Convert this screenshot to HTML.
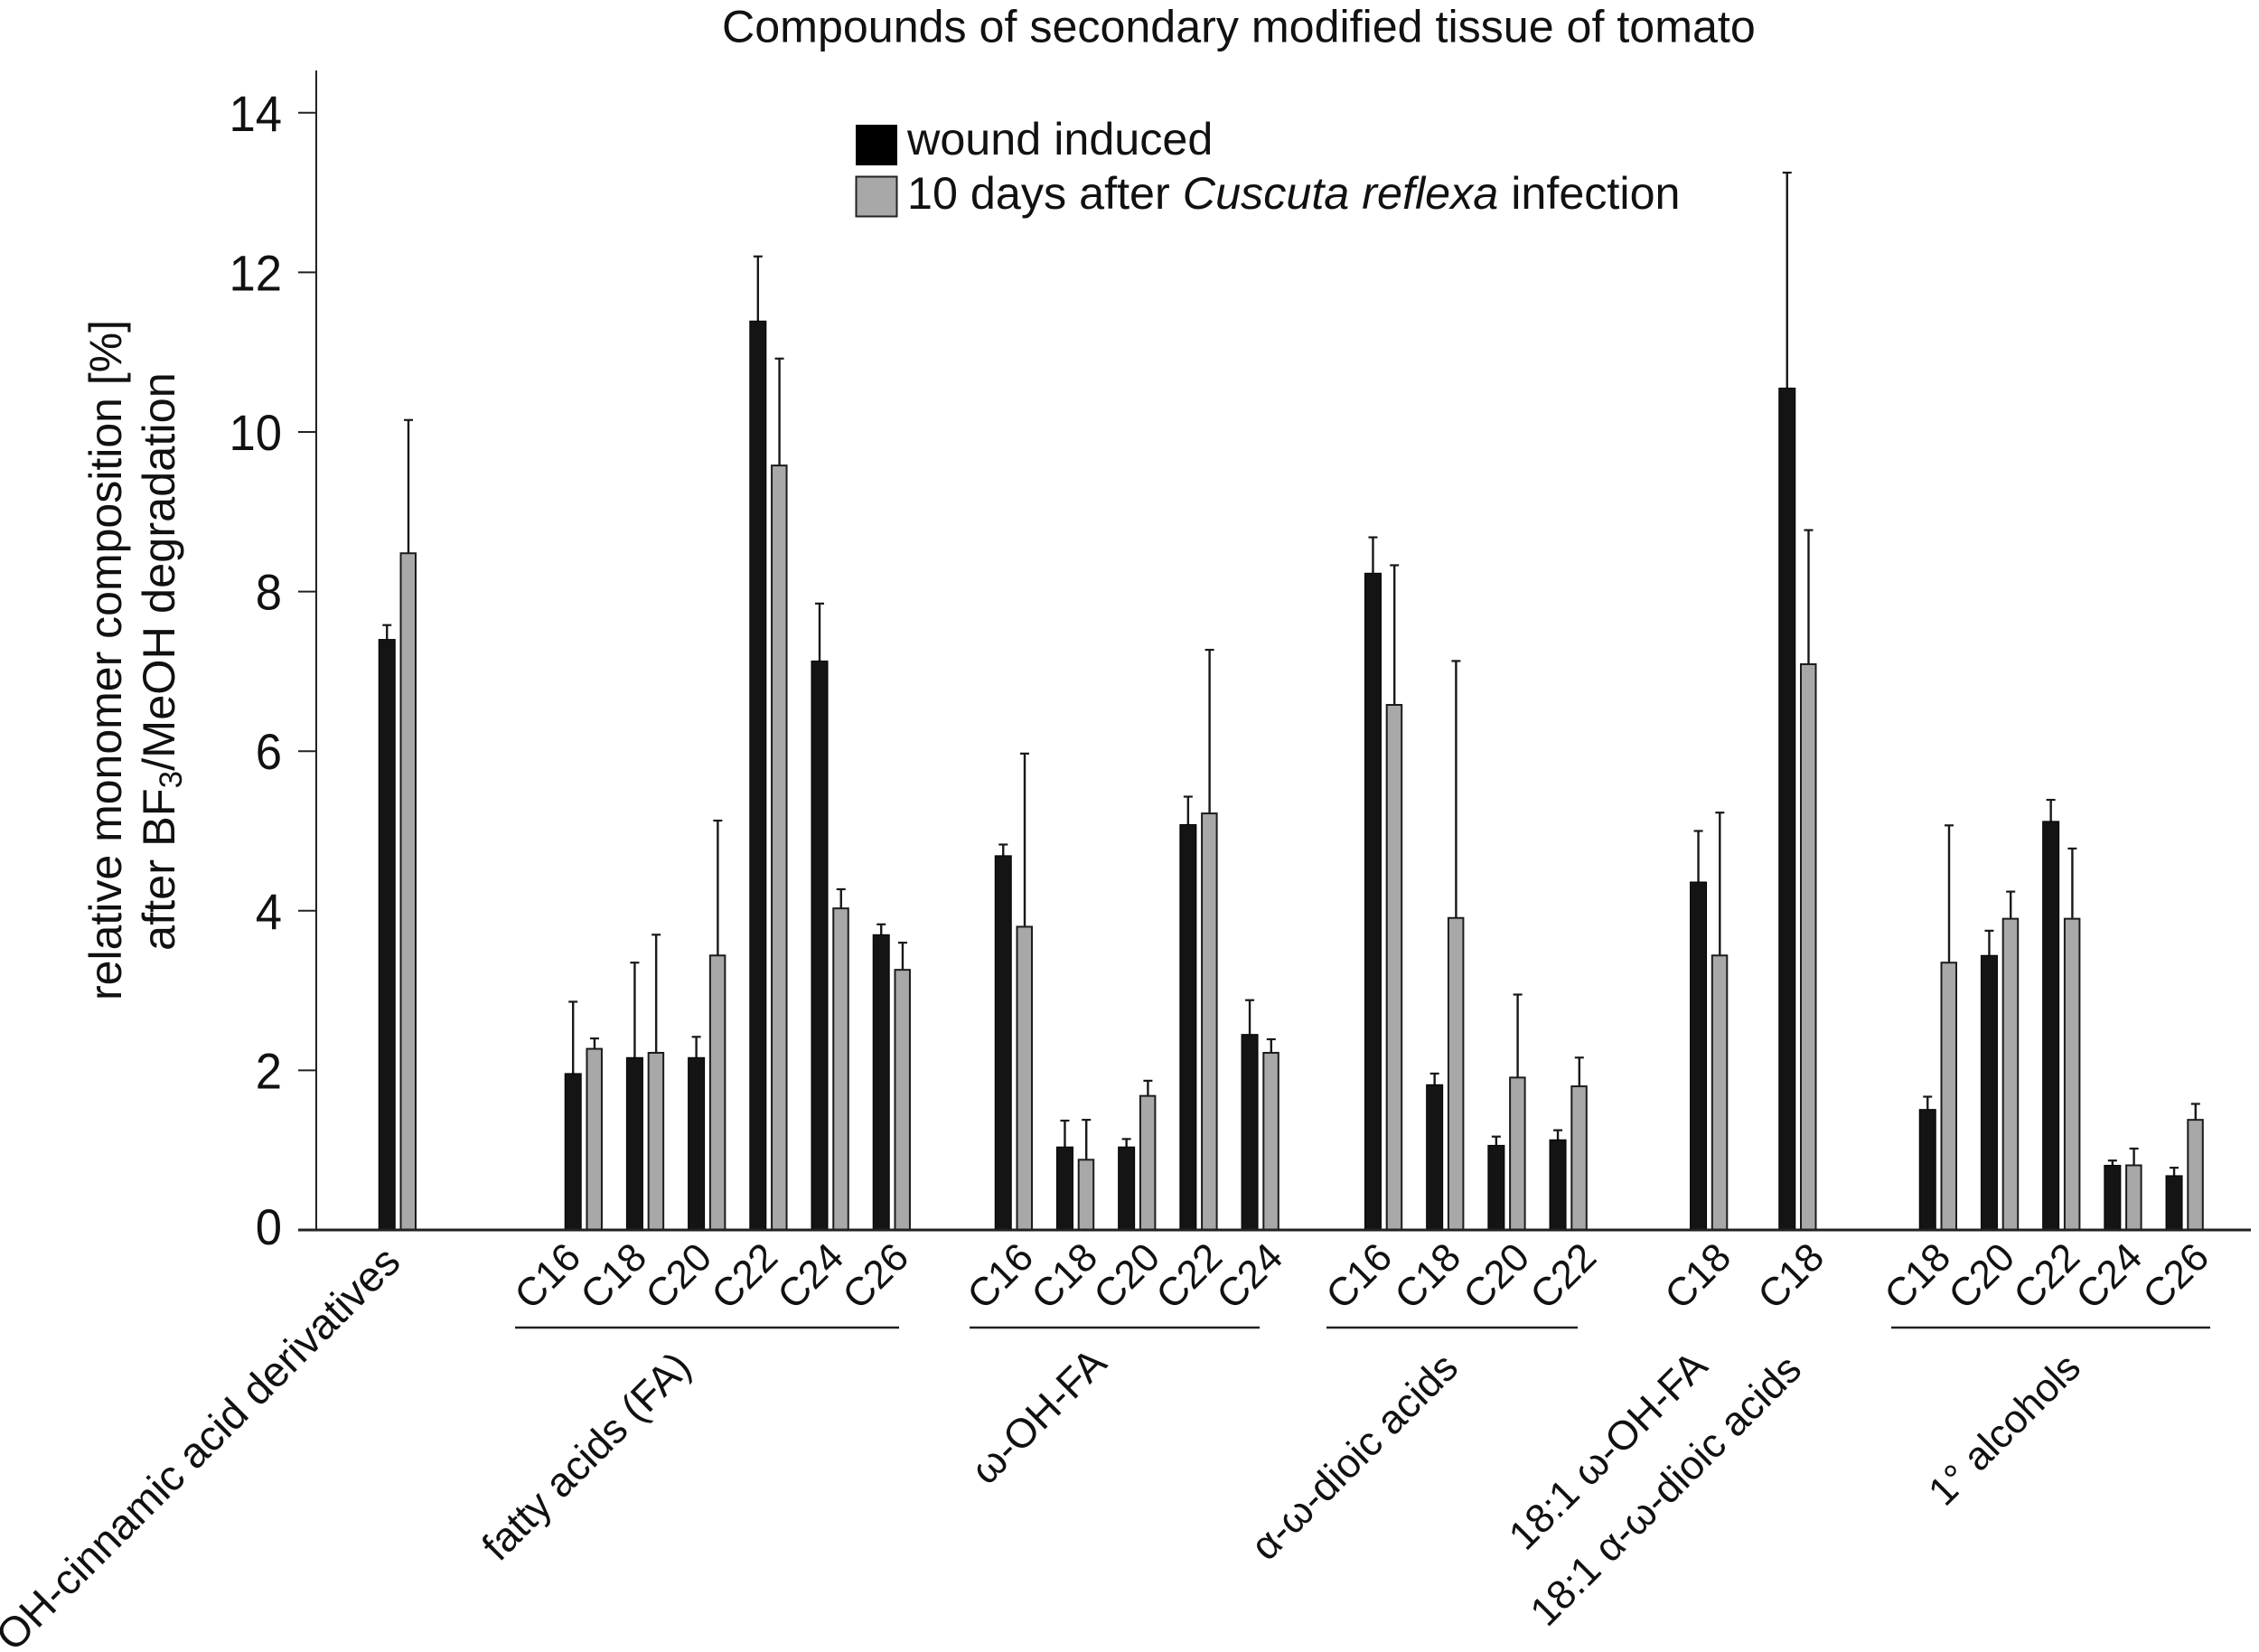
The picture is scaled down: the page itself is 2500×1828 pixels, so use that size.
<!DOCTYPE html>
<html lang="en">
<head>
<meta charset="utf-8">
<title>Compounds of secondary modified tissue of tomato</title>
<style>
html,body{margin:0;padding:0;background:#fff}
svg{display:block}
text{font-family:"Liberation Sans",Arial,sans-serif;fill:#111}
.xl{font-size:44px;text-anchor:end}
.gl{font-size:45px;text-anchor:end}
.yt{font-size:56px;text-anchor:end}
</style>
</head>
<body>
<svg id="chart" xmlns="http://www.w3.org/2000/svg" width="2500" height="1828" viewBox="0 0 2500 1828">
  <rect x="0" y="0" width="2500" height="1828" fill="#fff"/>
  <text x="799" y="46.5" font-size="50.2">Compounds of secondary modified tissue of tomato</text>

  <g>
    <rect x="947" y="138" width="46" height="45" fill="#000"/>
    <text x="1004" y="171" font-size="50.3">wound induced</text>
    <rect x="947.5" y="195.5" width="45" height="44" fill="#a8a8a8" stroke="#222" stroke-width="2"/>
    <text x="1004" y="231" font-size="50.3">10 days after <tspan font-style="italic">Cuscuta reflexa</tspan> infection</text>
  </g>

  <g id="yaxis"></g>

  <g>
    <text transform="translate(134 1107) rotate(-90)" font-size="50">relative monomer composition [%]</text>
    <text transform="translate(193 1052) rotate(-90)" font-size="50.5">after BF<tspan font-size="35" dy="8">3</tspan><tspan dy="-8">/MeOH degradation</tspan></text>
  </g>

  <g id="bars"></g>

  <g>
    <text class="xl" transform="translate(645 1394) rotate(-45)">C16</text>
    <text class="xl" transform="translate(718 1394) rotate(-45)">C18</text>
    <text class="xl" transform="translate(790 1394) rotate(-45)">C20</text>
    <text class="xl" transform="translate(863 1394) rotate(-45)">C22</text>
    <text class="xl" transform="translate(936 1394) rotate(-45)">C24</text>
    <text class="xl" transform="translate(1008 1394) rotate(-45)">C26</text>
    <text class="xl" transform="translate(1146 1394) rotate(-45)">C16</text>
    <text class="xl" transform="translate(1217 1394) rotate(-45)">C18</text>
    <text class="xl" transform="translate(1286 1394) rotate(-45)">C20</text>
    <text class="xl" transform="translate(1355 1394) rotate(-45)">C22</text>
    <text class="xl" transform="translate(1422 1394) rotate(-45)">C24</text>
    <text class="xl" transform="translate(1543 1394) rotate(-45)">C16</text>
    <text class="xl" transform="translate(1619 1394) rotate(-45)">C18</text>
    <text class="xl" transform="translate(1695 1394) rotate(-45)">C20</text>
    <text class="xl" transform="translate(1769 1394) rotate(-45)">C22</text>
    <text class="xl" transform="translate(1918 1394) rotate(-45)">C18</text>
    <text class="xl" transform="translate(2021 1394) rotate(-45)">C18</text>
    <text class="xl" transform="translate(2161 1394) rotate(-45)">C18</text>
    <text class="xl" transform="translate(2232 1394) rotate(-45)">C20</text>
    <text class="xl" transform="translate(2304 1394) rotate(-45)">C22</text>
    <text class="xl" transform="translate(2373 1394) rotate(-45)">C24</text>
    <text class="xl" transform="translate(2447 1394) rotate(-45)">C26</text>
  </g>

  <g stroke="#222" stroke-width="2.5">
    <line x1="570" x2="995" y1="1469" y2="1469"/>
    <line x1="1073" x2="1394" y1="1469" y2="1469"/>
    <line x1="1468" x2="1746" y1="1469" y2="1469"/>
    <line x1="2093" x2="2446" y1="1469" y2="1469"/>
  </g>

  <g>
    <text class="gl" style="font-size:47px" transform="translate(445.5 1399) rotate(-45)">OH-cinnamic acid derivatives</text>
    <text class="gl" style="font-size:45.5px" transform="translate(767 1515) rotate(-45)">fatty acids (FA)</text>
    <text class="gl" style="font-size:45.4px" transform="translate(1227 1511) rotate(-45)">ω-OH-FA</text>
    <text class="gl" transform="translate(1616 1516) rotate(-45)">α-ω-dioic acids</text>
    <text class="gl" transform="translate(1892 1514) rotate(-45)">18:1 ω-OH-FA</text>
    <text class="gl" transform="translate(1996 1518) rotate(-45)">18:1 α-ω-dioic acids</text>
    <text class="gl" style="font-size:44px" transform="translate(2305 1516) rotate(-45)">1° alcohols</text>
  </g>
</svg>

<script>
// Chart data
const groupNames = ['oh-cinnamic', 'fa', 'w-oh-fa', 'dioic', '181-w-oh-fa', '181-dioic', 'alcohols'];
const groupCategories = [
  ['derivatives'],
  ['C16', 'C18', 'C20', 'C22', 'C24', 'C26'],
  ['C16', 'C18', 'C20', 'C22', 'C24'],
  ['C16', 'C18', 'C20', 'C22'],
  ['C18'],
  ['C18'],
  ['C18', 'C20', 'C22', 'C24', 'C26']
];
// Where each group starts on the category axis, in category units
const groupStarts = [0, 3.02, 10, 16, 21.28, 22.72, 25];
const woundValues = [7.40, 1.96, 2.16, 2.16, 11.39, 7.13, 3.70, 4.69, 1.04, 1.04, 5.08, 2.45, 8.23, 1.82, 1.06, 1.13, 4.36, 10.55, 1.51, 3.44, 5.12, 0.81, 0.68];
const woundErrors = [0.18, 0.90, 1.19, 0.26, 0.81, 0.72, 0.13, 0.14, 0.33, 0.10, 0.35, 0.43, 0.45, 0.14, 0.11, 0.12, 0.64, 2.70, 0.16, 0.31, 0.27, 0.06, 0.10];
const cuscutaValues = [8.48, 2.27, 2.22, 3.44, 9.58, 4.03, 3.26, 3.80, 0.88, 1.68, 5.22, 2.22, 6.58, 3.91, 1.91, 1.80, 3.44, 7.09, 3.35, 3.90, 3.90, 0.81, 1.38];
const cuscutaErrors = [1.67, 0.13, 1.48, 1.69, 1.34, 0.24, 0.34, 2.17, 0.50, 0.19, 2.05, 0.17, 1.75, 3.22, 1.04, 0.36, 1.79, 1.68, 1.72, 0.34, 0.88, 0.21, 0.20];
const yTicks = [0, 2, 4, 6, 8, 10, 12, 14];

const NS = 'http://www.w3.org/2000/svg';
function yScale(v) { return 1361 - 88.3 * v; }
function xScale(slot) { return 419 + 68.2 * slot; }
function mk(parent, tag, attrs) {
  const el = document.createElementNS(NS, tag);
  for (const k in attrs) el.setAttribute(k, attrs[k]);
  parent.appendChild(el);
  return el;
}

const yaxis = document.getElementById('yaxis');
const axisLine = mk(yaxis, 'line', {x1: 350, x2: 350, y1: 78, y2: yScale(0), stroke: '#222', 'stroke-width': 2});


yTicks.forEach(function (t) {
  if (t !== 0) {
    const tick = mk(yaxis, 'line', {x1: 330, x2: 351, y1: yScale(t), y2: yScale(t), stroke: '#222', 'stroke-width': 2});
    
    
  }
  const label = mk(yaxis, 'text', {transform: 'translate(312 ' + (yScale(t) + (t === 0 ? 16 : 20)) + ') scale(0.94 1)', class: 'yt'});
  label.textContent = String(t);
  
  
});

const bars = document.getElementById('bars');
function drawError(cx, value, err, name) {
  const top = yScale(value + err);
  const stem = mk(bars, 'line', {x1: cx, x2: cx, y1: top, y2: yScale(value), stroke: '#181818', 'stroke-width': 2.4});
  
  
  const cap = mk(bars, 'line', {x1: cx - 5, x2: cx + 5, y1: top, y2: top, stroke: '#181818', 'stroke-width': 2.2});
  
  
}
let idx = 0;
groupCategories.forEach(function (cats, g) {
  cats.forEach(function (cat, c) {
    const x = xScale(groupStarts[g] + c);
    const key = groupNames[g] + '-' + cat.toLowerCase();
    drawError(x + 9.25, woundValues[idx], woundErrors[idx], 'wound-' + key);
    drawError(x + 33, cuscutaValues[idx], cuscutaErrors[idx], 'cuscuta-' + key);
    const b1 = mk(bars, 'rect', {x: x + 0.25, y: yScale(woundValues[idx]), width: 18, height: yScale(0) - yScale(woundValues[idx]), fill: '#141414', stroke: '#000', 'stroke-width': 1});
    
    
    const b2 = mk(bars, 'rect', {x: x + 24.5, y: yScale(cuscutaValues[idx]), width: 16.5, height: yScale(0) - yScale(cuscutaValues[idx]), fill: '#a8a8a8', stroke: '#1c1c1c', 'stroke-width': 2});
    
    
    idx++;
  });
});
const baseline = mk(yaxis, 'line', {x1: 330, x2: 2491, y1: yScale(0), y2: yScale(0), stroke: '#222', 'stroke-width': 3});


document.getElementById('chart').appendChild(baseline);
</script>
</body>
</html>
